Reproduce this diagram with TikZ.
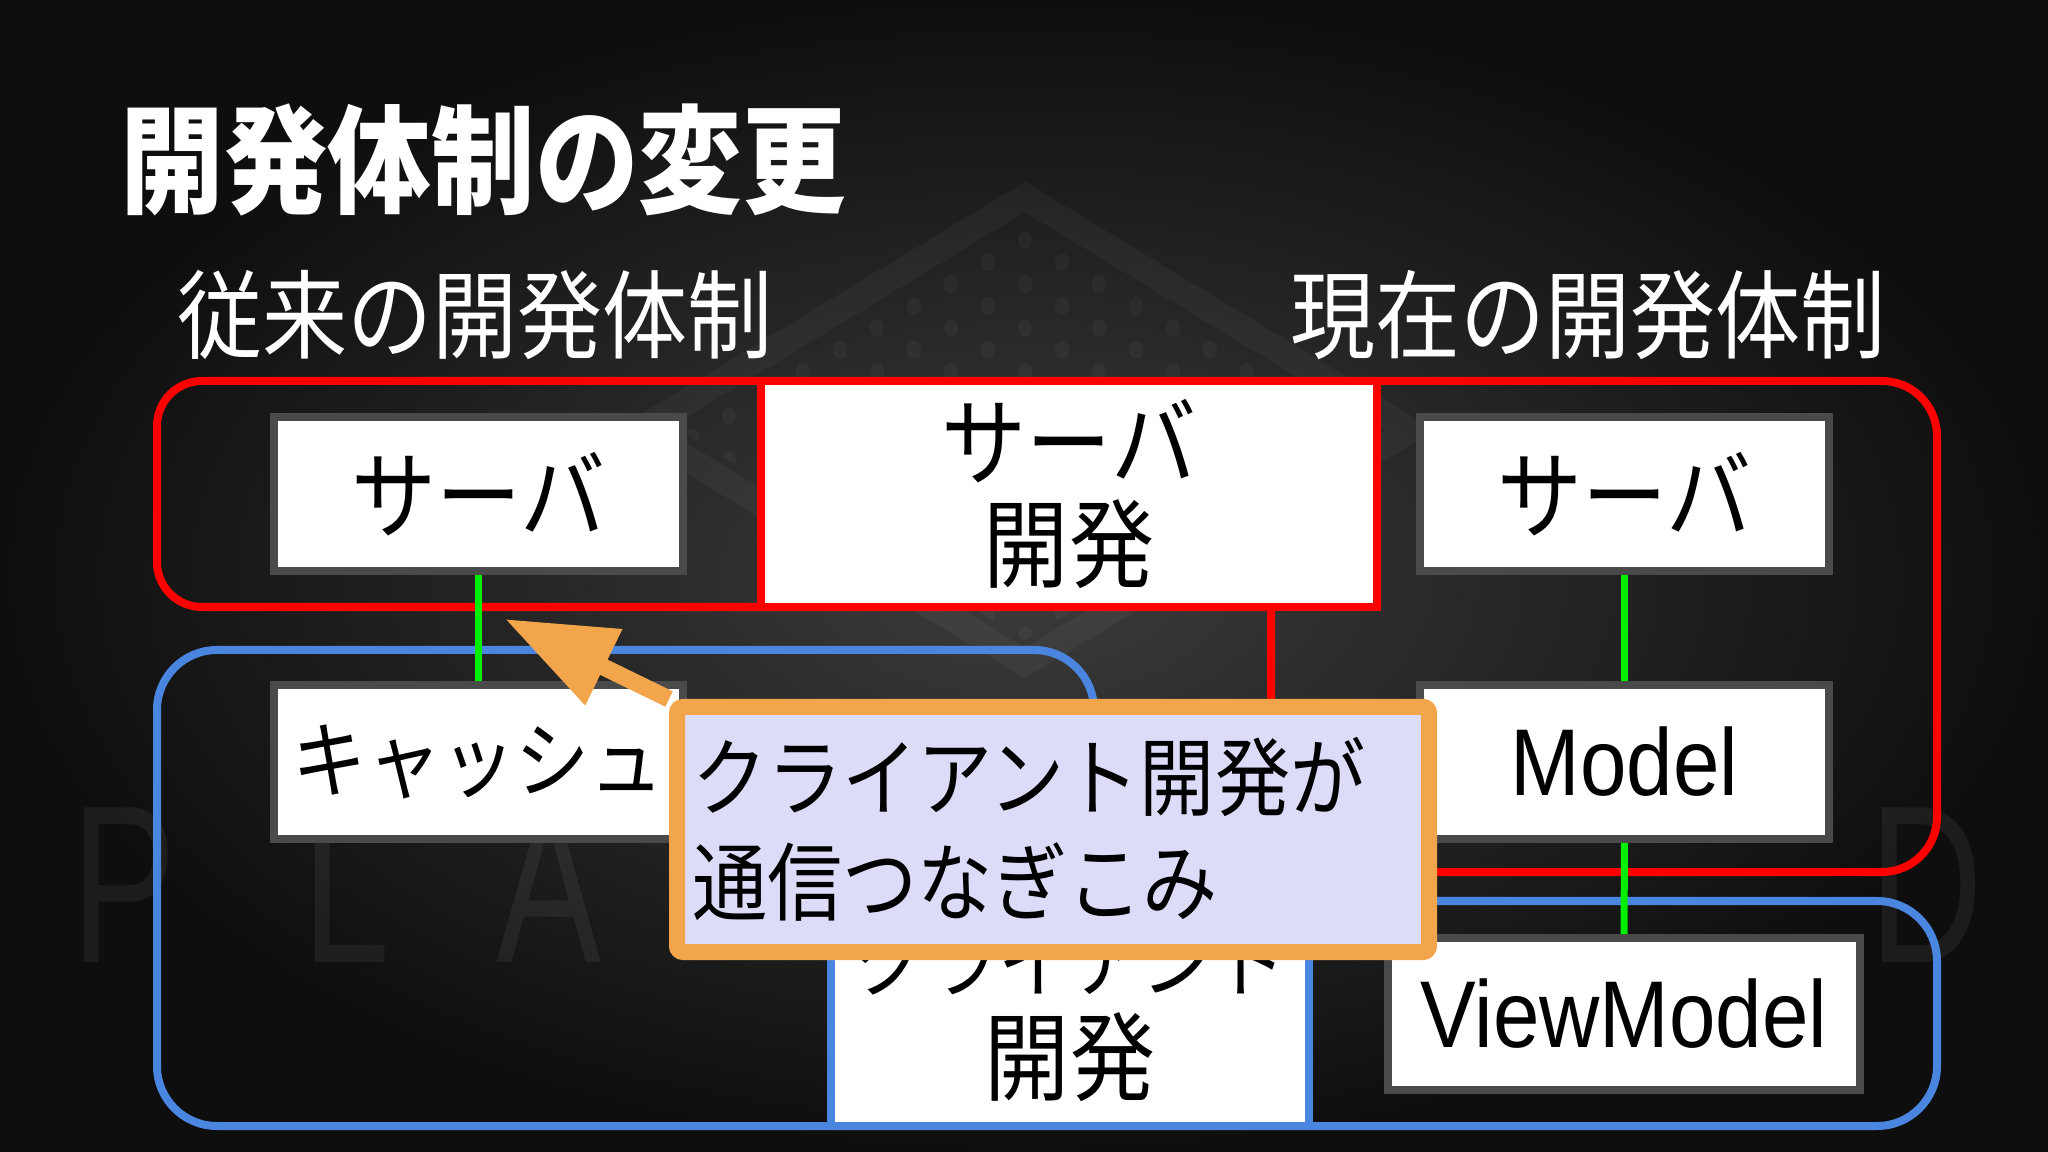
\documentclass[tikz,border=0pt]{standalone}
\usepackage{fontspec}
\setmainfont{Liberation Sans}[FakeStretch=0.88]
\newfontfamily\jp{Noto Sans CJK JP}[FakeStretch=0.88]
\newfontfamily\wmfont{Liberation Sans}[FakeStretch=0.7]
\usetikzlibrary{arrows.meta}
\definecolor{bgmid}{HTML}{3C3C3C}
\definecolor{bgedge}{HTML}{0E0E0E}
\definecolor{redline}{HTML}{FF0000}
\definecolor{blueline}{HTML}{4A86E0}
\definecolor{greenline}{HTML}{00EE00}
\definecolor{boxgrey}{HTML}{4A4A4A}
\definecolor{calloutfill}{HTML}{DCDCF9}
\definecolor{calloutedge}{HTML}{F2A54A}

\begin{document}
\begin{tikzpicture}[
    greybox/.style={draw=boxgrey, line width=0.08cm, fill=white, inner sep=0pt,
      minimum width=4.09cm, minimum height=1.54cm, font=\jp\fontsize{27.5}{29}\selectfont},
    latinbox/.style={greybox, font=\fontsize{27}{29}\selectfont},
    devbox/.style={fill=white, line width=0.08cm, inner sep=0pt, align=center,
      font=\jp\fontsize{27.5}{29}\selectfont},
    greenlink/.style={greenline, line width=0.07cm},
    group/.style={line width=0.08cm, rounded corners=0.55cm},
    heading/.style={text=white, inner sep=0pt, font=\jp\fontsize{27.5}{30}\selectfont},
    wmark/.style={text=white, text opacity=0.06, inner sep=0pt, font=\wmfont\fontsize{64}{64}\selectfont}
  ]
    \useasboundingbox (0,0) rectangle (20.48,-11.52);
    \shade[inner color=bgmid, outer color=bgedge] (0,0) rectangle (20.48,-11.52);
    \begin{scope}
      \draw[white, opacity=0.035, line width=0.26cm] (10.25,-1.97) -- (14.1,-4.30) -- (10.25,-6.63) -- (6.4,-4.30) -- cycle;
      \clip (10.25,-2.2) -- (13.7,-4.30) -- (10.25,-6.4) -- (6.8,-4.30) -- cycle;
      \foreach \i in {0,...,10}
        \foreach \j in {0,...,10}
          \fill[white, opacity=0.035] ({10.25+0.37*(\i-\j)},{-2.40-0.22*(\i+\j)}) ellipse (0.07 and 0.09);
    \end{scope}
    \foreach \ch/\x in {P/1.24, L/3.46, A/5.49, D/19.26}
      \node[wmark] (wm\ch) at (\x,-8.85) {\ch};

    \node[heading, anchor=west, font=\jp\bfseries\fontsize{33.5}{36}\selectfont] (title) at (1.20,-1.60) {開発体制の変更};
    \node[heading] (oldtitle) at (4.75,-3.15) {従来の開発体制};
    \node[heading] (newtitle) at (15.88,-3.15) {現在の開発体制};

    \draw[group, redline] (1.57,-3.81) -- (19.37,-3.81) -- (19.37,-8.72) -- (12.71,-8.72)
      [sharp corners] -- (12.71,-6.07) [rounded corners=0.45cm] -- (1.57,-6.07) -- cycle;
    \draw[group, blueline, rounded corners=0.6cm] (1.57,-6.50) -- (10.94,-6.50) -- (10.94,-9.01)
      -- (19.37,-9.01) -- (19.37,-11.26) -- (1.57,-11.26) -- cycle;

    \node[greybox] (srvold) at (4.785,-4.94) {サーバ};
    \node[greybox, font=\jp\fontsize{24}{26}\selectfont] (cache) at (4.785,-7.62) {キャッシュ};
    \node[greybox] (srvnew) at (16.245,-4.94) {サーバ};
    \node[latinbox] (model) at (16.245,-7.62) {Model};
    \node[latinbox, minimum width=4.72cm, minimum height=1.52cm] (vm) at (16.24,-10.14) {ViewModel};

    \draw[greenlink] (srvold.south) -- (cache.north);
    \draw[greenlink] (srvnew.south) -- (model.north);
    \draw[greenlink] (model.south) -- (vm.north);

    \node[devbox, draw=redline, minimum width=6.16cm, minimum height=2.26cm] (srvdev) at (10.69,-4.94) {サーバ\\開発};
    \node[devbox, draw=blueline, minimum width=4.78cm, minimum height=2.25cm] (cltdev) at (10.70,-10.135)
      {{\fontsize{23.5}{29}\selectfont クライアント}\\開発};

    \node[draw=calloutedge, fill=calloutfill, line width=0.16cm, rounded corners=0.06cm,
      minimum width=7.52cm, minimum height=2.45cm, text width=7.22cm, inner sep=0.15cm, align=left,
      font=\jp\fontsize{24.3}{30}\selectfont] (callout) at (10.53,-8.295) {クライアント開発が\\通信つなぎこみ};
    \coordinate (tip) at (5.05,-6.19);
    \draw[calloutedge, line width=0.17cm, -{Triangle[width=0.8cm, length=1.1cm]}] (callout.north west) -- (tip);
  \end{tikzpicture}
\end{document}
